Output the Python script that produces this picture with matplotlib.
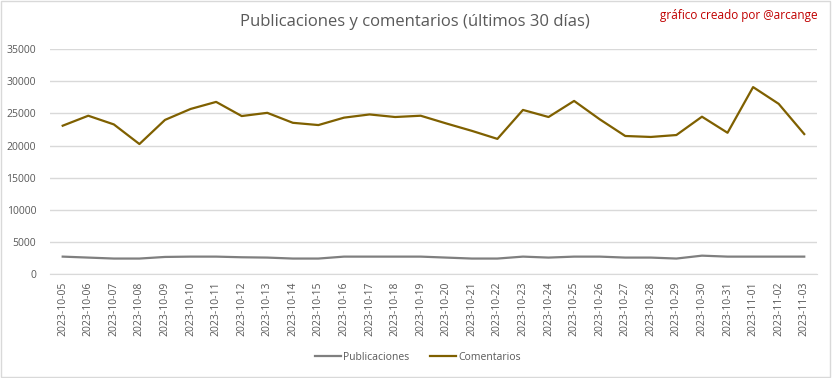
import matplotlib
matplotlib.use('Agg')
import matplotlib.pyplot as plt
import numpy as np

fechas = ['2023-10-05', '2023-10-06', '2023-10-07', '2023-10-08', '2023-10-09', '2023-10-10',
          '2023-10-11', '2023-10-12', '2023-10-13', '2023-10-14', '2023-10-15', '2023-10-16',
          '2023-10-17', '2023-10-18', '2023-10-19', '2023-10-20', '2023-10-21', '2023-10-22',
          '2023-10-23', '2023-10-24', '2023-10-25', '2023-10-26', '2023-10-27', '2023-10-28',
          '2023-10-29', '2023-10-30', '2023-10-31', '2023-11-01', '2023-11-02', '2023-11-03']

publicaciones = [2750, 2600, 2450, 2450, 2700, 2750, 2750, 2650, 2600, 2450,
                 2450, 2750, 2750, 2750, 2750, 2600, 2450, 2450, 2750, 2600,
                 2750, 2750, 2600, 2600, 2450, 2900, 2750, 2750, 2750, 2750]

comentarios = [23100, 24650, 23300, 20250, 24000, 25700, 26800, 24600, 25100, 23550,
               23200, 24350, 24850, 24450, 24650, 23450, 22300, 21050, 25550, 24450,
               26950, 24100, 21500, 21350, 21650, 24500, 22000, 29100, 26500, 21800]

y_ticks = [0, 5000, 10000, 15000, 20000, 25000, 30000, 35000]

plt.rcParams['font.family'] = ['Open Sans', 'DejaVu Sans']

fig = plt.figure(figsize=(8.32, 3.78), dpi=100)
ax = fig.add_axes([0.060, 0.2743, 0.922, 0.5957])

x = np.arange(len(fechas))
ax.plot(x, publicaciones, color='#7f7f7f', linewidth=1.6, label='Publicaciones')
ax.plot(x, comentarios, color='#7f6000', linewidth=1.6, label='Comentarios')

ax.set_xlim(-0.5, len(fechas) - 0.5)
ax.set_ylim(0, 35000)
ax.set_yticks(y_ticks)
ax.set_yticklabels([str(v) for v in y_ticks])
ax.set_xticks(x)
ax.set_xticklabels(fechas, rotation=90)
ax.tick_params(axis='both', length=0, labelsize=7.5, labelcolor='#595959')
ax.tick_params(axis='y', pad=10)
ax.tick_params(axis='x', pad=5)
ax.grid(axis='y', color='#d9d9d9', linewidth=1)
ax.set_axisbelow(True)
for s in ['top', 'right', 'left']:
    ax.spines[s].set_visible(False)
ax.spines['bottom'].set_color('#d9d9d9')

fig.text(0.499, 0.943, 'Publicaciones y comentarios (últimos 30 días)', ha='center', va='center',
         fontsize=12, color='#595959')
fig.text(0.983, 0.958, 'gráfico creado por @arcange', ha='right', va='center',
         fontsize=8.5, color='#c00000')

fig.legend(loc='center', bbox_to_anchor=(0.502, 0.055), ncol=2, frameon=False, fontsize=7.5,
           labelcolor='#595959', handlelength=2.5, handletextpad=0.2, columnspacing=2.0)

# light frame around the chart area
fig.patches.append(plt.Rectangle((0.001, 0.002), 0.997, 0.995, transform=fig.transFigure,
                                 fill=False, edgecolor='#d9d9d9', linewidth=1))

plt.savefig('out.png', dpi=100)
plt.close()
